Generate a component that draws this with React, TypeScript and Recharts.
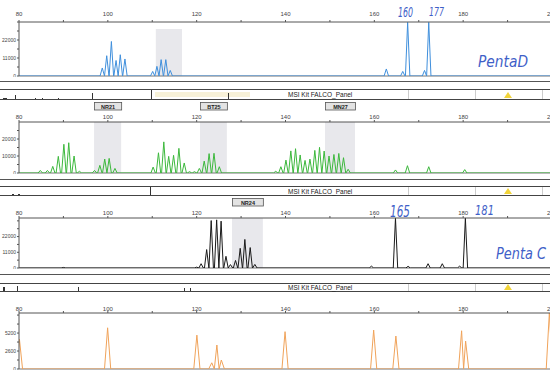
import React from 'react';
import { LineChart, Line, XAxis, YAxis, ReferenceArea, ReferenceLine } from 'recharts';

// ---------- data ----------
const X_TICKS = [80, 90, 100, 110, 120, 130, 140, 150, 160, 170, 180, 190, 200];
const X_LABELS = [80, 100, 120, 140, 160, 180, 200];

// Panel 1 (blue, Penta D)
const BLUE_SIZES = [98.75, 99.75, 100.8, 101.85, 102.8, 103.85, 110.1, 111.05, 112.0, 113.05, 114.05, 162.7, 166.4, 167.5, 171.3, 172.25];
const BLUE_HEIGHTS = [4900, 12400, 21100, 9500, 13000, 10400, 2800, 5900, 10000, 10000, 3400, 4300, 2800, 32800, 3400, 32800];
const Y_TICKS_1 = [0, 5500, 11000, 16500, 22000, 27500, 33000];
const Y_LABELS_1 = [0, 11000, 22000];

// Panel 2 (green)
const GREEN_SIZES = [84.8, 86.4, 87.6, 88.85, 90.1, 91.2, 92.4, 93.6, 97.0, 98.2, 99.3, 100.3, 101.6, 110.2, 111.4, 112.6, 113.7, 114.8, 116.0, 117.2, 118.4, 119.5, 120.6, 121.7, 122.8, 123.9, 125.1, 137.8, 138.96, 140.1, 141.2, 142.26, 143.3, 144.4, 145.5, 146.6, 147.66, 148.7, 149.8, 150.9, 152.0, 153.06, 154.1, 164.76, 167.46, 172.25, 180.35];
const GREEN_HEIGHTS = [1500, 1500, 3900, 9800, 16900, 17800, 10000, 1000, 1500, 4500, 8200, 8600, 2700, 3500, 11900, 18300, 9800, 10400, 14500, 5900, 800, 800, 2700, 7000, 11400, 11600, 3700, 1000, 3700, 7600, 13000, 14300, 10600, 7400, 8200, 13300, 15100, 12900, 10000, 10900, 11500, 9000, 2200, 1800, 4300, 3700, 2000];
const Y_TICKS_2 = [0, 5000, 10000, 15000, 20000, 25000];
const Y_LABELS_2 = [0, 10000, 20000];
const MARKERS_2 = [
  { name: 'NR21', from: 96.9, to: 103.0 },
  { name: 'BT25', from: 120.75, to: 126.8 },
  { name: 'MN27', from: 148.9, to: 155.65 },
];

// Panel 3 (black, Penta C)
const BLACK_SIZES = [90.0, 120.0, 121.0, 122.25, 123.27, 124.5, 125.5, 126.6, 127.6, 128.75, 129.8, 130.85, 132.05, 133.1, 159.35, 164.76, 167.6, 172.1, 175.3, 179.2, 180.5];
const BLACK_HEIGHTS = [400, 600, 3000, 12900, 33200, 33700, 32800, 8200, 2400, 5300, 13800, 20000, 14300, 2500, 1300, 34900, 1200, 3000, 3000, 1300, 34900];
const Y_TICKS_3 = [0, 5500, 11000, 16500, 22000, 27500, 33000];
const Y_LABELS_3 = [0, 11000, 22000];
const MARKERS_3 = [{ name: 'NR24', from: 127.95, to: 134.9 }];

// Panel 4 (orange, size standard)
const ORANGE_SIZES = [80.1, 99.95, 120.05, 123.4, 124.55, 125.55, 139.9, 159.85, 164.85, 179.65, 180.55, 199.4];
const ORANGE_HEIGHTS = [4300, 5960, 4900, 900, 3470, 1300, 5400, 5630, 4770, 5530, 4040, 8100];
const Y_TICKS_4 = [0, 1300, 2600, 3900, 5200, 6500, 7800];
const Y_LABELS_4 = [0, 2600, 5200];

const PANEL_TEXT = 'MSI Kit FALCO_Panel';

// ---------- helpers ----------
function buildTrace(sizes: number[], heights: number[], hw: number) {
  const pts: { x: number; h: number }[] = [{ x: Math.min(80, sizes[0] - hw), h: 0 }];
  sizes.forEach((s, i) => {
    const prev = i > 0 ? sizes[i - 1] : -Infinity;
    const next = i < sizes.length - 1 ? sizes[i + 1] : Infinity;
    pts.push({ x: Math.max(s - hw, (s + prev) / 2), h: 0 });
    pts.push({ x: s, h: heights[i] });
    pts.push({ x: Math.min(s + hw, (s + next) / 2), h: 0 });
  });
  pts.push({ x: Math.max(200, sizes[sizes.length - 1] + hw), h: 0 });
  return pts;
}

const FONT = 'Liberation Sans, Arial, sans-serif';

const BoxLabel = (props: any) => {
  const { viewBox, text } = props;
  if (!viewBox) return null;
  const { x, y, width } = viewBox;
  return (
    <g>
      <rect x={x + 0.5} y={y - 19.5} width={width} height={7.5} fill="#e3e3e3" stroke="#555" strokeWidth={0.8} />
      <text x={x + width / 2 + 0.5} y={y - 13.5} textAnchor="middle" fontSize={5.5} fontWeight="bold" fill="#222" fontFamily={FONT}>
        {text}
      </text>
    </g>
  );
};

type Area = { name?: string; from: number; to: number; top?: number };

function Panel(props: {
  top: number; height: number; data: any[]; color: string; yMax: number;
  yTicks: number[]; yLabels: number[]; xTickMargin: number; areas: Area[];
}) {
  const { top, height, data, color, yMax, yTicks, yLabels, xTickMargin, areas } = props;
  return (
    <div style={{ position: 'absolute', left: 0, top }}>
      <LineChart width={560} height={height} data={data} margin={{ top: 10, right: 8, bottom: 1, left: 0 }}>
        <XAxis
          dataKey="x" type="number" domain={[80, 200]} ticks={X_TICKS} interval={0}
          orientation="top" height={12} allowDataOverflow
          tickFormatter={(v: number) => (X_LABELS.includes(v) ? String(v) : '')}
          tick={{ fontSize: 6, fill: '#444', fontFamily: FONT }}
          tickSize={2} tickMargin={xTickMargin} stroke="#555"
        />
        <YAxis
          type="number" domain={[0, yMax]} ticks={yTicks} interval={0} width={19} allowDataOverflow
          tickFormatter={(v: number) => (yLabels.includes(v) ? String(v) : '')}
          tick={{ fontSize: 5, fill: '#444', fontFamily: FONT }}
          tickSize={2} tickMargin={1} stroke="#555"
        />
        {areas.map((a) => (
          <ReferenceArea
            key={a.from} x1={a.from} x2={a.to} y1={0} y2={a.top ?? yMax}
            fill="#e8e8ec" fillOpacity={1} stroke="none" ifOverflow="hidden"
            label={a.name ? <BoxLabel text={a.name} /> : undefined}
          />
        ))}
        <ReferenceLine y={0} stroke="#777" />
        <Line dataKey="h" type="linear" stroke={color} strokeWidth={1} dot={false} isAnimationActive={false} />
      </LineChart>
    </div>
  );
}

function Strip({ top, height, children }: { top: number; height: number; children?: React.ReactNode }) {
  return (
    <div style={{ position: 'absolute', left: 0, top, width: 550, height, boxSizing: 'border-box', borderTop: '1px solid #444', borderBottom: '1px solid #444' }}>
      {children}
      <div style={{ position: 'absolute', left: 288, top: 0, bottom: 0, display: 'flex', alignItems: 'center', fontSize: 6.5, fontFamily: FONT, color: '#222', whiteSpace: 'nowrap' }}>{PANEL_TEXT}</div>
      {[408, 475, 542].map((x) => (
        <div key={x} style={{ position: 'absolute', left: x, top: 0, bottom: 0, width: 1, background: '#ccc' }} />
      ))}
      <div style={{ position: 'absolute', left: 504, bottom: 1, width: 0, height: 0, borderLeft: '4px solid transparent', borderRight: '4px solid transparent', borderBottom: '6px solid #f2d43a' }} />
    </div>
  );
}

const Mark = ({ x, h = 6, w = 1 }: { x: number; h?: number; w?: number }) => (
  <div style={{ position: 'absolute', left: x, bottom: 0, width: w, height: h, background: '#333' }} />
);

const HLine = ({ y }: { y: number }) => (
  <div style={{ position: 'absolute', left: 0, top: y, width: 550, height: 1, background: '#555' }} />
);

export default function App() {
  const blue = buildTrace(BLUE_SIZES, BLUE_HEIGHTS, 0.5);
  const green = buildTrace(GREEN_SIZES, GREEN_HEIGHTS, 0.5);
  const black = buildTrace(BLACK_SIZES, BLACK_HEIGHTS, 0.5);
  const orange = buildTrace(ORANGE_SIZES, ORANGE_HEIGHTS, 0.7);
  const ink = '#3f5fc8';
  const hand = { fontFamily: 'DejaVu Sans, sans-serif', fill: ink, fontStyle: 'italic' as const };
  return (
    <div style={{ position: 'absolute', left: 0, top: 0, width: 550, height: 385, overflow: 'hidden', background: '#fff' }}>
      <Panel top={0} height={77} data={blue} color="#3f8fdc" yMax={33000} yTicks={Y_TICKS_1} yLabels={Y_LABELS_1} xTickMargin={4}
        areas={[{ from: 110.8, to: 116.7, top: 28700 }]} />
      <HLine y={81} />
      <Strip top={89} height={11}>
        <div style={{ position: 'absolute', left: 155, top: 2, width: 95, height: 5, background: '#f7f1d8' }} />
        <Mark x={3} h={1} w={4} />
        <Mark x={15} h={4} />
        <Mark x={35} h={1} />
        <Mark x={42} h={1} />
        <Mark x={58} h={1} />
        <Mark x={92} h={6} />
        <Mark x={151} h={9} />
        <Mark x={228} h={6} />
      </Strip>

      <Panel top={100} height={74} data={green} color="#3cb83c" yMax={30000} yTicks={Y_TICKS_2} yLabels={Y_LABELS_2} xTickMargin={1.5}
        areas={MARKERS_2} />
      <HLine y={179} />
      <Strip top={186} height={10}>
        <Mark x={12} h={1} w={2} />
        <Mark x={18} h={1} w={2} />
        <Mark x={150} h={8} />
      </Strip>

      <Panel top={196} height={73} data={black} color="#1a1a1a" yMax={35000} yTicks={Y_TICKS_3} yLabels={Y_LABELS_3} xTickMargin={1.5}
        areas={MARKERS_3} />
      <HLine y={274} />
      <Strip top={283} height={9}>
        <Mark x={3} h={4} w={2} />
        <Mark x={17} h={5} />
        <Mark x={78} h={4} />
        <Mark x={184} h={3} />
        <Mark x={190} h={3} />
      </Strip>

      <Panel top={291} height={79} data={orange} color="#f0a35a" yMax={8100} yTicks={Y_TICKS_4} yLabels={Y_LABELS_4} xTickMargin={0}
        areas={[]} />

      <svg width={550} height={385} style={{ position: 'absolute', left: 0, top: 0, pointerEvents: 'none' }}>
        <text x={398} y={17} fontSize={14} textLength={15} lengthAdjust="spacingAndGlyphs" {...hand}>160</text>
        <text x={429} y={16} fontSize={13} textLength={15} lengthAdjust="spacingAndGlyphs" {...hand}>177</text>
        <text x={478} y={67} fontSize={16} textLength={50} lengthAdjust="spacingAndGlyphs" {...hand}>PentaD</text>
        <text x={390} y={217} fontSize={15} textLength={20} lengthAdjust="spacingAndGlyphs" {...hand}>165</text>
        <text x={475} y={215} fontSize={14} textLength={19} lengthAdjust="spacingAndGlyphs" {...hand}>181</text>
        <text x={496} y={259} fontSize={15} textLength={50} lengthAdjust="spacingAndGlyphs" {...hand}>Penta C</text>
      </svg>
    </div>
  );
}
